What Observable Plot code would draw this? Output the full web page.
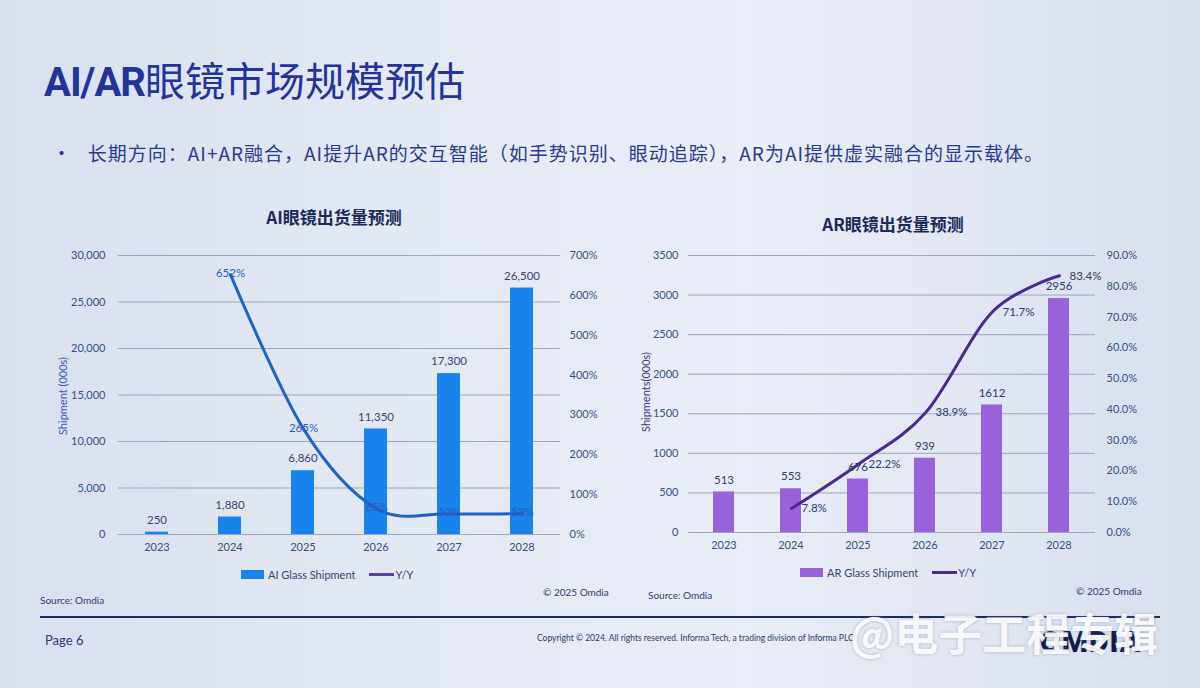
<!DOCTYPE html>
<html>
<head>
<meta charset="utf-8">
<script src="https://cdn.jsdelivr.net/npm/d3@7"></script>
<script src="https://cdn.jsdelivr.net/npm/@observablehq/plot@0.6"></script>
<style>
  html, body { margin: 0; padding: 0; }
  body {
    width: 1200px; height: 688px; overflow: hidden; position: relative;
    background: linear-gradient(90deg, #d8e0ee 0%, #e2e8f3 30%, #e9edf7 62%, #e2e7f3 80%, #d7dfed 100%);
    font-family: Lato, "Noto Sans", sans-serif;
  }
  .abs { position: absolute; white-space: nowrap; }
  #title { left: 44px; top: 50px; font-size: 40px; color: #25329a; font-family: "Noto Sans CJK SC", sans-serif; font-weight: 400; }
  #title b { font-family: Roboto, "Noto Sans", sans-serif; font-weight: 700; letter-spacing: -1px; }
  #bullet { left: 52px; top: 139px; font-size: 19px; color: #2a3a8c; font-family: "Noto Sans CJK SC", sans-serif; letter-spacing: 1px; }
  .ctitle { font-family: "Noto Sans CJK SC", sans-serif; font-weight: 700; font-size: 17px; color: #1c2a58; transform: translateX(-50%); }
  .ytitle { font-size: 11px; transform: translate(-50%, -50%) rotate(-90deg); }
  .chart { position: absolute; }
  .chart svg { position: absolute; left: 0; top: 0; background: transparent !important; }
  .legend { font-size: 11px; color: #34466e; display: flex; align-items: center; }
  .sw { display: inline-block; width: 23px; height: 9px; margin-right: 4px; }
  .ln { display: inline-block; width: 25px; height: 3px; margin: 0 1px 0 14px; }
  .small { font-size: 10px; color: #2b3b6a; }
  #footline { left: 40px; top: 616px; width: 1120px; height: 2px; background: #1c2a66; }
  #page { left: 45px; top: 632px; font-size: 13px; color: #2b3a7a; }
  #copy { left: 537px; top: 633px; font-size: 8.5px; color: #2b3a6a; }
  #omdia { left: 1040px; top: 624px; font-size: 30px; font-weight: 900; color: #0f1b4a; letter-spacing: 1px; font-family: Roboto, sans-serif; }
  #wm { left: 850px; top: 600px; font-size: 44px; color: rgba(255,255,255,0.93); font-family: "Noto Sans CJK SC", sans-serif; font-weight: 700; text-shadow: 0 0 3px rgba(110,120,150,0.55); }
</style>
</head>
<body>
<div id="title" class="abs"><b>AI/AR</b>眼镜市场规模预估</div>
<div id="bullet" class="abs">•&nbsp;&nbsp;&nbsp;长期方向：AI+AR融合，AI提升AR的交互智能（如手势识别、眼动追踪），AR为AI提供虚实融合的显示载体。</div>

<div class="abs ctitle" style="left:334px; top:204px;">AI眼镜出货量预测</div>
<div class="abs ctitle" style="left:893px; top:211px;">AR眼镜出货量预测</div>

<div class="abs ytitle" style="left:62px; top:396px; color:#3a5ab0;">Shipment (000s)</div>
<div class="abs ytitle" style="left:645px; top:392px; color:#3a3a86;">Shipments(000s)</div>

<div id="chartAI" class="chart" style="left:40px; top:240px; width:560px; height:330px;"></div>
<div id="chartAR" class="chart" style="left:620px; top:240px; width:520px; height:330px;"></div>

<div class="abs legend" style="left:241px; top:568px;"><span class="sw" style="background:#1a82ec"></span>AI Glass Shipment<span class="ln" style="background:#5a3fa6"></span>Y/Y</div>
<div class="abs legend" style="left:800px; top:566px;"><span class="sw" style="background:#9a62da"></span>AR Glass Shipment<span class="ln" style="background:#4b2a8e"></span>Y/Y</div>

<div class="abs small" style="left:40px; top:594px;">Source: Omdia</div>
<div class="abs small" style="left:543px; top:586px;">© 2025 Omdia</div>
<div class="abs small" style="left:648px; top:589px;">Source: Omdia</div>
<div class="abs small" style="left:1076px; top:585px;">© 2025 Omdia</div>

<div id="footline" class="abs"></div>
<div id="page" class="abs">Page 6</div>
<div id="copy" class="abs">Copyright © 2024. All rights reserved. Informa Tech, a trading division of Informa PLC</div>
<div id="omdia" class="abs">OMDIA</div>
<div id="wm" class="abs">@电子工程专辑</div>

<script>
// ---- Data ----
const years = ["2023", "2024", "2025", "2026", "2027", "2028"];
const aiShipments = [250, 1880, 6860, 11350, 17300, 26500];
const aiYoY = [null, 652, 265, 65, 52, 53];           // percent
const arShipments = [513, 553, 676, 939, 1612, 2956];
const arYoY = [null, 7.8, 22.2, 38.9, 71.7, 83.4];   // percent
const aiLeftTicks = [0, 5000, 10000, 15000, 20000, 25000, 30000];
const aiRightTicks = [0, 100, 200, 300, 400, 500, 600, 700];
const arLeftTicks = [0, 500, 1000, 1500, 2000, 2500, 3000, 3500];
const arRightTicks = [0, 10, 20, 30, 40, 50, 60, 70, 80, 90];

const aiBars = years.map((y, i) => ({year: y, value: aiShipments[i]}));
const aiLine = years.map((y, i) => ({year: y, pct: aiYoY[i]})).filter(d => d.pct != null);
const arBars = years.map((y, i) => ({year: y, value: arShipments[i]}));
const arLine = years.map((y, i) => ({year: y, pct: arYoY[i]})).filter(d => d.pct != null);

const font = "Lato, 'Noto Sans', sans-serif";

function makeChart(el, cfg) {
  const common = {
    width: cfg.width, height: cfg.height,
    marginLeft: cfg.ml, marginRight: cfg.mr, marginTop: cfg.mt, marginBottom: cfg.mb,
    style: {fontFamily: font, fontSize: "11px", background: "transparent", overflow: "visible"},
    x: {domain: years, paddingInner: cfg.pad, paddingOuter: cfg.pad / 2, axis: null}
  };
  const bars = Plot.plot({
    ...common,
    y: {domain: cfg.leftDomain, axis: null},
    marks: [
      Plot.gridY(cfg.leftTicks, {stroke: "#9aa6bf", strokeOpacity: 1, strokeWidth: 1}),
      Plot.axisY({ticks: cfg.leftTicks, tickSize: 0, tickPadding: cfg.lpad, tickFormat: cfg.leftFmt, color: cfg.tickColor, fontSize: 11, label: null}),
      Plot.axisX({tickSize: 0, tickPadding: 9, color: cfg.tickColor, fontSize: 11, label: null}),
      Plot.barY(cfg.bars, {x: "year", y: "value", fill: cfg.barColor}),
      Plot.text(cfg.bars, {x: "year", y: "value", text: d => cfg.leftFmt(d.value), dy: -12, fill: cfg.barLabelColor, fontSize: 11.5})
    ]
  });
  const line = Plot.plot({
    ...common,
    y: {domain: cfg.rightDomain, axis: null},
    marks: [
      Plot.axisY({anchor: "right", ticks: cfg.rightTicks, tickSize: 0, tickPadding: cfg.rpad, tickFormat: cfg.rightFmt, color: cfg.tickColor, fontSize: 11, label: null}),
      Plot.lineY(cfg.line, {x: "year", y: "pct", stroke: cfg.lineColor, strokeWidth: 3, curve: "cardinal"}),
      Plot.text(cfg.line, {x: "year", y: "pct", text: d => cfg.pctLabel(d.pct), fill: cfg.lineLabelColor, fontSize: 11.5, textAnchor: cfg.lineLabelAnchor, dx: cfg.lineLabelDx, dy: cfg.lineLabelDy})
    ]
  });
  el.appendChild(bars);
  el.appendChild(line);
}

const comma = d3.format(",");

makeChart(document.getElementById("chartAI"), {
  width: 560, height: 330, ml: 78, mr: 40, mt: 15, mb: 36, pad: 0.69,
  leftDomain: [0, 30000], leftTicks: aiLeftTicks, leftFmt: comma, lpad: 13,
  rightDomain: [0, 700], rightTicks: aiRightTicks, rightFmt: d => d + "%", rpad: 9,
  bars: aiBars, line: aiLine,
  barColor: "#1a82ec", lineColor: "#1f62c8", tickColor: "#34507e",
  barLabelColor: "#34466e", lineLabelColor: "#2a5cbc",
  pctLabel: d => d + "%", lineLabelAnchor: "middle", lineLabelDx: 0, lineLabelDy: -1
});

makeChart(document.getElementById("chartAR"), {
  width: 520, height: 330, ml: 68, mr: 45, mt: 15, mb: 38, pad: 0.685,
  leftDomain: [0, 3500], leftTicks: arLeftTicks, leftFmt: d => String(d), lpad: 10,
  rightDomain: [0, 90], rightTicks: arRightTicks, rightFmt: d => d.toFixed(1) + "%", rpad: 11,
  bars: arBars, line: arLine,
  barColor: "#9a62da", lineColor: "#4b2a8e", tickColor: "#34507e",
  barLabelColor: "#2e3c62", lineLabelColor: "#2e3c6a",
  pctLabel: d => d.toFixed(1) + "%", lineLabelAnchor: "start", lineLabelDx: 10, lineLabelDy: 0
});
</script>
</body>
</html>
